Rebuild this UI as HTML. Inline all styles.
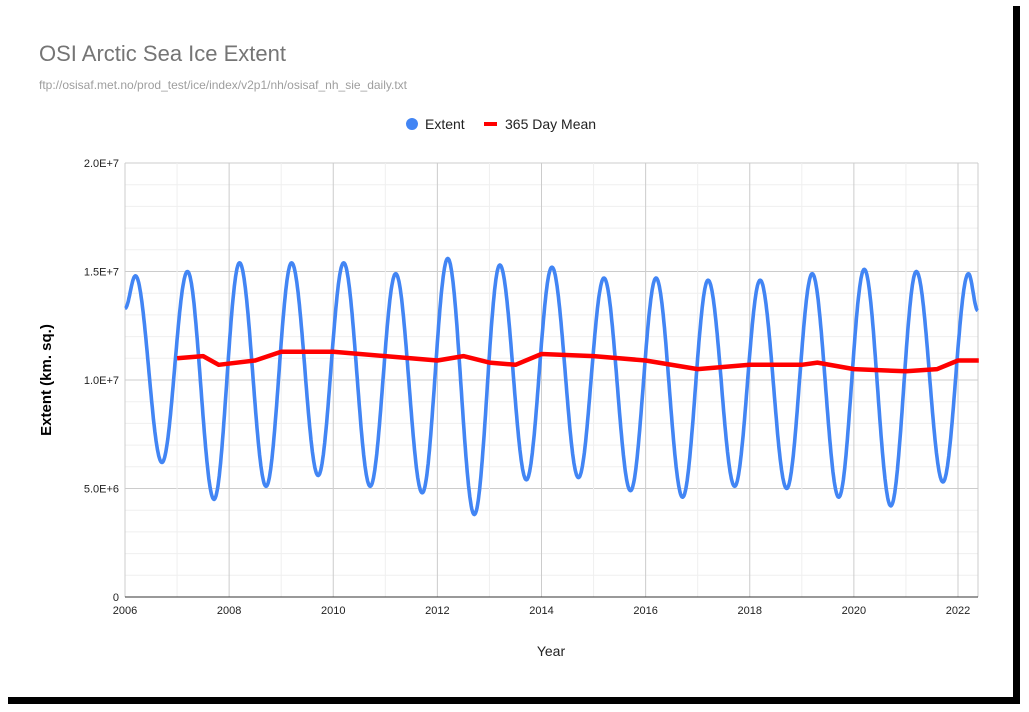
<!DOCTYPE html>
<html><head><meta charset="utf-8"><style>
body{margin:0;background:#fff;width:1029px;height:712px;overflow:hidden;font-family:"Liberation Sans",Arial,sans-serif}
</style></head><body>
<svg width="1029" height="712" style="position:absolute;left:0;top:0">
<rect x="8" y="6" width="1012" height="698" fill="#000"/>
<rect x="3" y="2" width="1010" height="695" fill="#fff"/>
<text x="39" y="61" font-size="22" fill="#757575">OSI Arctic Sea Ice Extent</text>
<text x="39" y="89" font-size="12" fill="#9e9e9e">ftp://osisaf.met.no/prod_test/ice/index/v2p1/nh/osisaf_nh_sie_daily.txt</text>
<g>
<circle cx="412" cy="124" r="6" fill="#4285f4"/>
<text x="425" y="129" font-size="14" fill="#222">Extent</text>
<rect x="484" y="122" width="13" height="4" fill="#ff0000"/>
<text x="505" y="129" font-size="14" fill="#222">365 Day  Mean</text>
</g>
<g id="grid"></g>
<g id="axes"></g>
<g id="series"></g>
<text x="551" y="656" font-size="14" fill="#222" text-anchor="middle">Year</text>
<text transform="translate(51,380) rotate(-90)" font-size="15" font-weight="bold" fill="#000" text-anchor="middle">Extent (km. sq.)</text>
</svg>
<script>
const maxYears=[2006,2007,2008,2009,2010,2011,2012,2013,2014,2015,2016,2017,2018,2019,2020,2021,2022];
const maxValues=[14.8,15.0,15.4,15.4,15.4,14.9,15.6,15.3,15.2,14.7,14.7,14.6,14.6,14.9,15.1,15.0,14.9];
const minValues=[6.2,4.5,5.1,5.6,5.1,4.8,3.8,5.4,5.5,4.9,4.6,5.1,5.0,4.6,4.2,5.3];
const extentStart=13.3, extentEnd=13.2;
const meanYears=[2007.0,2007.5,2007.8,2008.5,2009.0,2010.0,2011.0,2012.0,2012.5,2013.0,2013.5,2014.0,2015.0,2016.0,2017.0,2018.0,2019.0,2019.3,2020.0,2021.0,2021.6,2022.0,2022.4];
const meanValues=[11.0,11.1,10.7,10.9,11.3,11.3,11.1,10.9,11.1,10.8,10.7,11.2,11.1,10.9,10.5,10.7,10.7,10.8,10.5,10.4,10.5,10.9,10.9];
const yTicks=[0,5,10,15,20];
const yTickLabels=["0","5.0E+6","1.0E+7","1.5E+7","2.0E+7"];
const xTicks=[2006,2008,2010,2012,2014,2016,2018,2020,2022];
const NS="http://www.w3.org/2000/svg";
const X0=125,X1=978,Y0=597,Y1=163,YR0=2006,YR1=2022.38;
const xs=t=>X0+(t-YR0)/(16)*(958-X0);
const ys=v=>Y0-(v/20)*(Y0-Y1);
function mk(tag,attrs,parent){const e=document.createElementNS(NS,tag);for(const k in attrs)e.setAttribute(k,attrs[k]);parent.appendChild(e);return e;}
const grid=document.getElementById('grid'),axes=document.getElementById('axes'),series=document.getElementById('series');
for(let v=0;v<=20;v+=1){const l=mk('line',{x1:X0,x2:X1,y1:ys(v),y2:ys(v),stroke:v%5?'#efefef':'#cccccc','stroke-width':1},grid);
}
for(let y=2006;y<=2022;y++){const l=mk('line',{x1:xs(y),x2:xs(y),y1:Y1,y2:Y0,stroke:y%2?'#efefef':'#cccccc','stroke-width':1},grid);
}
{const l=mk('line',{x1:X1,x2:X1,y1:Y1,y2:Y0,stroke:'#cccccc'},grid);}
{const l=mk('line',{x1:X0,x2:X1,y1:Y0,y2:Y0,stroke:'#333','stroke-width':1},axes);}
yTicks.forEach((v,i)=>{const t=mk('text',{x:X0-6,y:ys(v)+4,'font-size':11,fill:'#222','text-anchor':'end'},axes);t.textContent=yTickLabels[i];
});
xTicks.forEach(v=>{const t=mk('text',{x:xs(v),y:Y0+17,'font-size':11,fill:'#222','text-anchor':'middle'},axes);t.textContent=String(v);
});
// extrema sequence
const ex=[[2006.0,extentStart]];
maxYears.forEach((y,i)=>{ex.push([y+0.2,maxValues[i]]);if(i<minValues.length)ex.push([y+0.71,minValues[i]]);});
ex.push([YR1,extentEnd]);
let pts=[];
for(let i=0;i<ex.length-1;i++){const [t0,v0]=ex[i],[t1,v1]=ex[i+1];const n=Math.max(4,Math.round((t1-t0)*80));
for(let k=0;k<n;k++){const f=k/n;const s=(1-Math.cos(Math.PI*f))/2;pts.push(xs(t0+(t1-t0)*f).toFixed(1)+','+ys(v0+(v1-v0)*s).toFixed(1));}}
pts.push(xs(ex[ex.length-1][0]).toFixed(1)+','+ys(ex[ex.length-1][1]).toFixed(1));
const ext=mk('polyline',{points:pts.join(' '),fill:'none',stroke:'#4285f4','stroke-width':3.6,'stroke-linejoin':'round'},series);

const mp=meanYears.map((t,i)=>xs(t).toFixed(1)+','+ys(meanValues[i]).toFixed(1)).join(' ');
const mean=mk('polyline',{points:mp,fill:'none',stroke:'#ff0000','stroke-width':4.5,'stroke-linejoin':'round'},series);

</script>
</body></html>
